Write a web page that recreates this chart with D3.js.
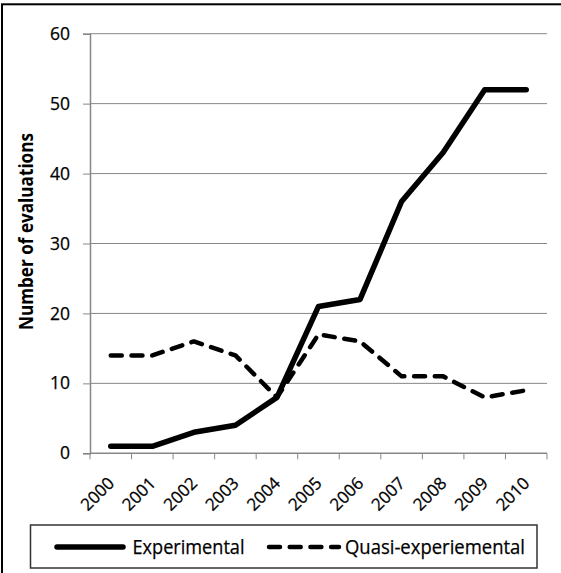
<!DOCTYPE html>
<html><head><meta charset="utf-8">
<script src="https://cdn.jsdelivr.net/npm/d3@7"></script>
<style>
html,body{margin:0;padding:0;background:#fff;}
svg{display:block;}
text{font-family:"Open Sans",sans-serif;fill:#000;}
</style></head>
<body>
<svg id="chart" width="561" height="573"></svg>
<script>
const years = ["2000","2001","2002","2003","2004","2005","2006","2007","2008","2009","2010"];
const experimental = [1, 1, 3, 4, 8, 21, 22, 36, 43, 52, 52];
const quasi = [14, 14, 16, 14, 8, 17, 16, 11, 11, 8, 9];
const yTicks = [0, 10, 20, 30, 40, 50, 60];
const seriesNames = ["Experimental", "Quasi-experiemental"];
const yTitle = "Number of evaluations";

(function () {
const svg = d3.select("#chart");
const W = 561, H = 573;
const pL = 90, pR = 547, pT = 33.7, pB = 453.3;
const grey = "#878787";

// outer frame (top and left edges visible)
svg.append("rect").attr("x", 2).attr("y", 4.3).attr("width", W + 10).attr("height", H + 10)
  .attr("fill", "none").attr("stroke", "#000").attr("stroke-width", 2);

const x = d3.scaleBand().domain(years).range([pL, pR]).padding(0);
const y = d3.scaleLinear().domain([0, 60]).range([pB, pT]);
const cx = d => x(d) + x.bandwidth() / 2;

// gridlines
svg.append("g").selectAll("line").data(yTicks.filter(v => v > 0)).join("line")
  .attr("x1", pL).attr("x2", pR)
  .attr("y1", d => y(d)).attr("y2", d => y(d))
  .attr("stroke", grey).attr("stroke-width", 1);

// y axis
const yAxis = svg.append("g").attr("transform", `translate(${pL},0)`)
  .call(d3.axisLeft(y).tickValues(yTicks).tickSize(7).tickPadding(13));
yAxis.select(".domain").attr("stroke", grey).attr("stroke-width", 1.5);
yAxis.selectAll(".tick line").attr("stroke", grey).attr("stroke-width", 1);
yAxis.selectAll(".tick text").attr("font-family", "Open Sans").attr("font-size", 17.5)
  .attr("fill", "#000").attr("stroke", "#000").attr("stroke-width", 0.25);

// x axis line and boundary ticks
svg.append("line").attr("x1", pL).attr("x2", pR).attr("y1", y(0)).attr("y2", y(0))
  .attr("stroke", grey).attr("stroke-width", 1.5);
const bounds = years.map(d => x(d)).concat([x.range()[1]]);
svg.append("g").selectAll("line").data(bounds).join("line")
  .attr("x1", d => d).attr("x2", d => d).attr("y1", y(0)).attr("y2", y(0) + 6)
  .attr("stroke", grey).attr("stroke-width", 1);

// x labels rotated
svg.append("g").selectAll("text").data(years).join("text")
  .attr("transform", d => `translate(${cx(d) + 4.5},${y(0) + 31}) rotate(-45)`)
  .attr("text-anchor", "end").attr("font-size", 17)
  .attr("stroke", "#000").attr("stroke-width", 0.25).text(d => d);

// y title
svg.append("text").attr("transform", `translate(33,${(133 + 330) / 2}) rotate(-90)`)
  .attr("text-anchor", "middle").attr("font-weight", "bold").attr("font-size", 19.5)
  .attr("textLength", 197).attr("lengthAdjust", "spacingAndGlyphs")
  .text(yTitle);

// lines
const line = d3.line().x((d, i) => cx(years[i])).y(d => y(d));
svg.append("path").datum(quasi).attr("d", line).attr("fill", "none")
  .attr("stroke", "#000").attr("stroke-width", 4.5).attr("stroke-dasharray", "11,9.7")
  .attr("stroke-linecap", "round").attr("stroke-linejoin", "round");
svg.append("path").datum(experimental).attr("d", line).attr("fill", "none")
  .attr("stroke", "#000").attr("stroke-width", 5.5)
  .attr("stroke-linecap", "round").attr("stroke-linejoin", "round");

// legend
const lg = svg.append("g");
lg.append("rect").attr("x", 30.5).attr("y", 525).attr("width", 506.5).attr("height", 43)
  .attr("fill", "#fff").attr("stroke", "#333").attr("stroke-width", 1.5);
const ly = 547;
lg.append("line").attr("x1", 57).attr("x2", 123).attr("y1", ly).attr("y2", ly)
  .attr("stroke", "#000").attr("stroke-width", 5.5).attr("stroke-linecap", "round");
lg.append("text").attr("x", 132.5).attr("y", 554).attr("font-size", 19.5)
  .attr("textLength", 112).attr("lengthAdjust", "spacingAndGlyphs")
  .attr("stroke", "#000").attr("stroke-width", 0.25).text(seriesNames[0]);
lg.append("line").attr("x1", 269).attr("x2", 339).attr("y1", ly).attr("y2", ly)
  .attr("stroke", "#000").attr("stroke-width", 4.5).attr("stroke-dasharray", "11,9.7")
  .attr("stroke-linecap", "round");
lg.append("text").attr("x", 345).attr("y", 554).attr("font-size", 19.5)
  .attr("textLength", 180).attr("lengthAdjust", "spacingAndGlyphs")
  .attr("stroke", "#000").attr("stroke-width", 0.25).text(seriesNames[1]);
})();
</script>
</body></html>
